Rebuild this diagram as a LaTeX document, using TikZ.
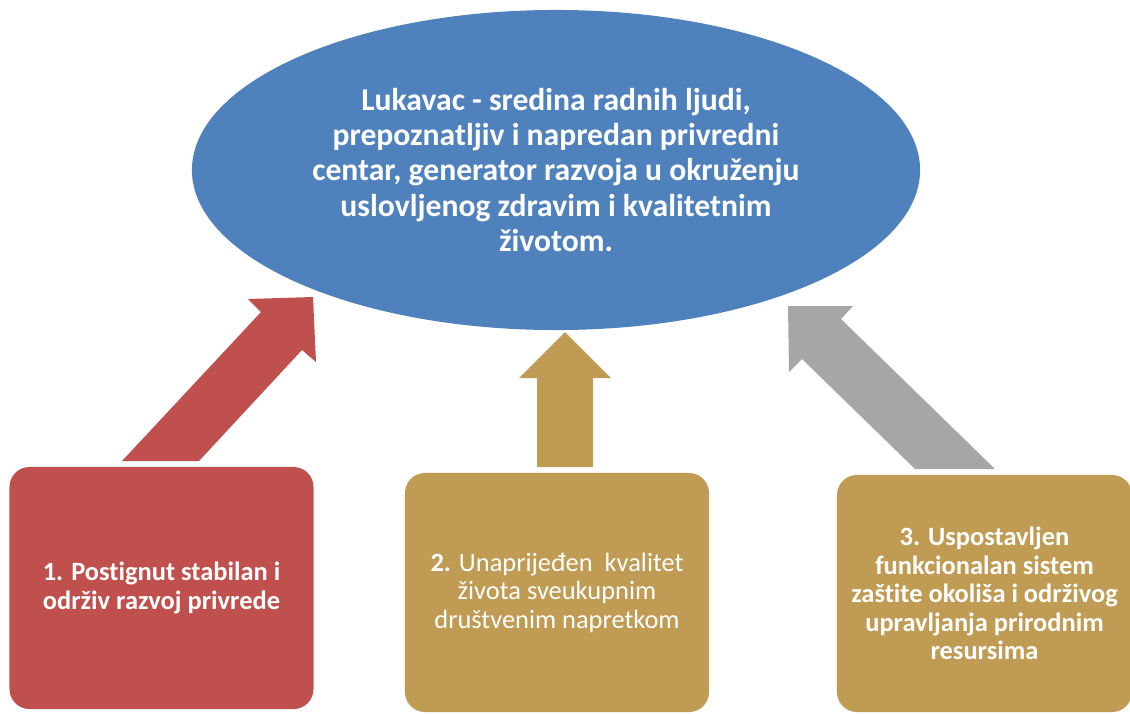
\documentclass[tikz,border=0pt]{standalone}
\usepackage{fontspec}
\setmainfont{Carlito}[Ligatures=NoCommon]
\usetikzlibrary{shapes.geometric,positioning}
\definecolor{visionBlue}{RGB}{79,129,189}
\definecolor{goalRed}{RGB}{192,80,77}
\definecolor{goalGold}{RGB}{191,155,83}
\definecolor{goalGray}{RGB}{166,166,166}

\begin{document}
\begin{tikzpicture}[x=0.025cm,y=-0.025cm,
  vision/.style={ellipse,fill=visionBlue,minimum width=18.2cm,minimum height=8cm,
                 inner sep=0pt,align=center,text=white,
                 font=\fontsize{22.5}{25}\selectfont\bfseries},
  goal/.style={rectangle,rounded corners=0.5cm,minimum width=7.6cm,minimum height=6cm,
               inner sep=0pt,align=center,text=white,
               font=\fontsize{18.8}{20.3}\selectfont},
  blockarrow/.style={draw=none}
]
  \useasboundingbox (0,0) rectangle (1130,713);

  \node[vision](vis) at (556,170) {Lukavac - sredina radnih ljudi,\\
    prepoznatljiv i napredan privredni\\
    centar, generator razvoja u okruženju\\
    uslovljenog zdravim i kvalitetnim\\
    životom.};

  \node[goal,fill=goalRed,minimum height=6.05cm](g1) at (161.5,588)
    {\bfseries 1. Postignut stabilan i\\\bfseries održiv razvoj privrede};
  \node[goal,fill=goalGold,minimum height=5.975cm](g2) at (557,592.5)
    {\textbf{2.} Unaprijeđen~ kvalitet\\života sveukupnim\\društvenim napretkom};
  \node[goal,fill=goalGold,minimum width=7.375cm,minimum height=5.925cm](g3) at (984.5,593.5)
    {\bfseries 3. Uspostavljen\\\bfseries funkcionalan sistem\\\bfseries zaštite okoliša i održivog\\
     \bfseries upravljanja prirodnim\\\bfseries resursima};

  % block arrows towards the vision
  \fill[goalRed,blockarrow] (122,461) -- (261,312) -- (248,299) -- (313,297)
    -- (316,362) -- (302,350) -- (199,461) -- cycle;
  \fill[goalGold,blockarrow] (537,467) -- (537,378) -- (519,378) -- (565,332)
    -- (611,378) -- (593,378) -- (593,467) -- cycle;
  \fill[goalGray,blockarrow] (788,306) -- (853,306) -- (841,319) -- (995,469)
    -- (915,469) -- (802,359) -- (789,372) -- cycle;
\end{tikzpicture}
\end{document}
